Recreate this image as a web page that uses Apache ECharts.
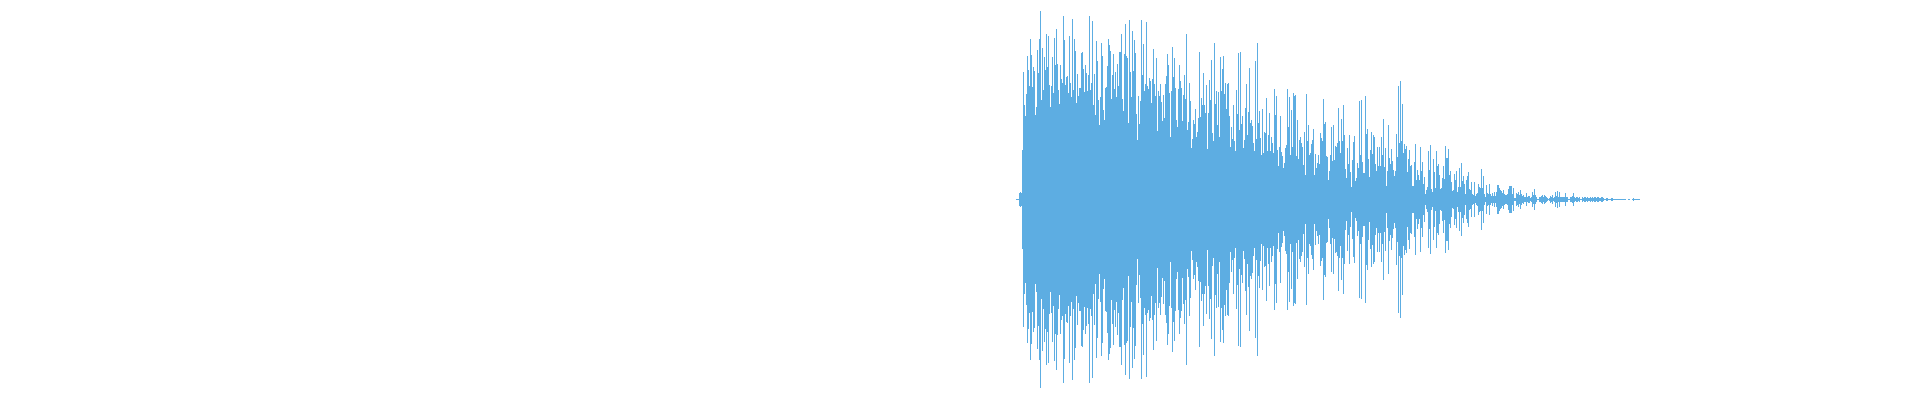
<!DOCTYPE html>
<html><head><meta charset="utf-8">
<style>html,body{margin:0;padding:0;background:#fff}#c{width:1920px;height:400px}</style>
<script src="https://cdn.jsdelivr.net/npm/echarts@6/dist/echarts.min.js"></script>
</head><body><div id="c"></div>
<script>
const peaksA = [1,1,1,7,8,7,50,128,95,84,106,144,130,114,161,145,113,133,129,85,93,150,127,161,189,100,152,110,143,130,166,133,164,115,93,114,143,107,162,135,171,136,110,96,135,121,117,184,160,115,123,124,107,164,117,103,181,110,161,149,97,126,104,112,112,147,148,131,108,135,127,109,125,184,110,117,179,95,126,85,159,139,100,75];
const peaksB = [103,157,144,90,80,112,113,134,161,155,149,101,125,146,111,128,103,136,114,148,148,166,101,89,146,176,144,142,77,180,128,103,169,129,160,147,86,60,104,76,99,180,125,156,109,116,178,114,111,122,119,97,121,151,116,104,142,69,109,104,116,98,79,105,82,116,124,146,135,107,63,109,153,123,142,112,80,73,111,135,119,112,79,105];
const peaksC = [125,101,166,70,78,117,99,52,61,80,76,91,63,68,82,148,83,102,95,127,95,87,115,51,87,120,100,140,67,59,157,96,109,75,108,63,143,109,131,144,106,117,91,116,117,84,53,73,61,95,59,49,110,86,147,70,148,76,84,52,60,92,116,65,88,132,77,80,74,57,49,139,61,157,77,89,62,45,91,47,68,67,102,49];
const peaksD = [65,87,49,63,57,47,111,85,104,50,34,53,84,48,44,32,37,52,55,111,73,103,45,90,53,107,104,105,44,80,41,60,63,57,53,35,68,25,106,59,75,45,47,56,60,71,25,46,32,37,45,36,67,62,59,101,76,78,44,43,20,29,45,73,39,75,40,54,53,57,92,59,47,81,59,95,65,31,22,52,36,65,28,13];
const peaksE = [40,58,64,19,22,37,32,99,45,100,38,27,27,104,66,71,41,23,50,68,46,65,63,36,29,53,34,53,34,63,45,81,33,52,14,29,75,42,36,51,39,30,24,29,66,43,114,57,119,59,96,47,56,51,54,28,41,50,34,35,14,14,38,56,20,30,25,20,53,29,38,16,23,6,10,13,49,30,55,11,8,41,28,12];
const peaksF = [49,34,36,25,11,12,22,34,21,54,42,42,51,25,29,18,9,10,26,20,29,8,13,32,13,37,19,24,16,6,20,24,28,11,10,18,6,5,18,4,6,7,16,13,12,31,12,24,6,3,15,7,6,16,6,4,7,4,8,4,8,15,15,12,10,9,7,10,6,5,5,6,11,14,14,14,6,12,2,2,7,6,8,5];
const peaksG = [10,6,4,5,3,3,7,3,4,4,2,3,8,5,11,5,3,1,1,3,3,4,5,3,5,4,3,2,1,2,4,3,5,2,3,8,4,9,3,8,3,3,3,3,3,7,3,3,1,1,3,3,4,7,3,2,3,3,2,3,1,1,3,2,3,3,2,3,2,2,3,2,3,2,3,3,2,3,3,2,2,3,3,2,1,1,2,2,1,1,1,2,2,1,1,1,1,1,1,1,1,1,1,1,1,1,0,0,1,1,0,0,1,2,1,1,1,1,1,1];
const peaks = [...peaksA, ...peaksB, ...peaksC, ...peaksD, ...peaksE, ...peaksF, ...peaksG];
// Mirror: the lower half starts one pixel row below the centre line.
const troughs = peaks.map(v => Math.min(0, 1 - v));
const bins = peaks.map((_, i) => i);
const chart = echarts.init(document.getElementById('c'), null, {renderer:'canvas'});
chart.setOption({
  animation:false,
  backgroundColor:'#ffffff',
  grid:{left:1016,width:peaks.length,top:0,height:400},
  xAxis:{type:'category',data:bins,show:false,boundaryGap:true},
  yAxis:{type:'value',min:-200,max:200,show:false},
  series:[
    {type:'bar',data:peaks,barWidth:1,barGap:'-100%',silent:true,itemStyle:{color:'#5DADE2'}},
    {type:'bar',data:troughs,barWidth:1,barGap:'-100%',silent:true,itemStyle:{color:'#5DADE2'}}
  ]
});
</script></body></html>
